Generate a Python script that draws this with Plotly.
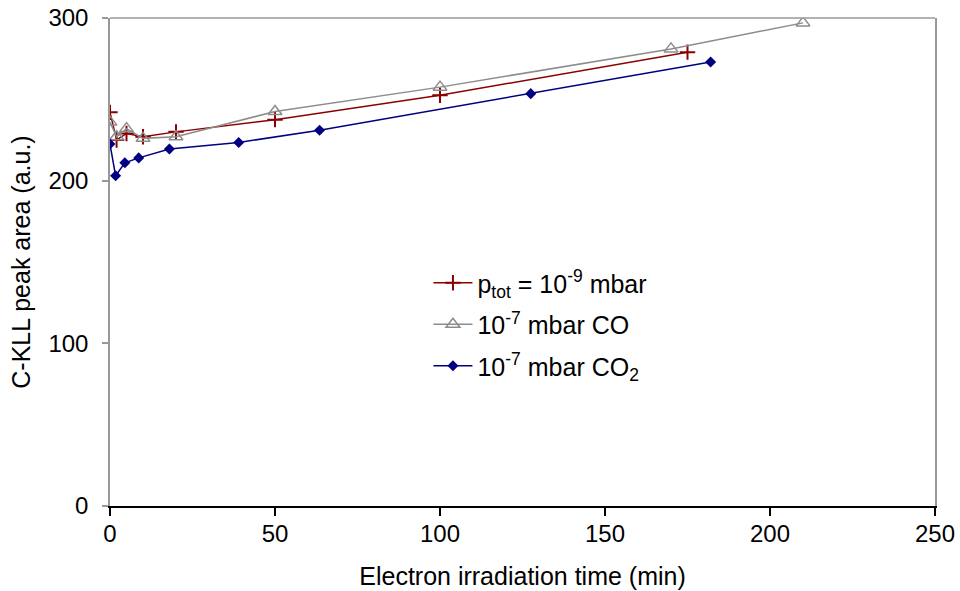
import plotly.graph_objects as go

# Data
red_x = [0, 2, 5, 10, 20, 50, 100, 175]
red_y = [242, 225, 229, 227, 230, 237.5, 252.5, 279]
gray_x = [0, 2, 5, 10, 20, 50, 100, 170, 210]
gray_y = [236, 227, 232, 226, 227, 242.5, 257.5, 281, 297]
blue_x = [0, 1.7, 4.5, 8.7, 18, 39, 63.5, 127.5, 182]
blue_y = [222.5, 203, 211, 214, 219.5, 223.5, 231, 253.5, 273]

FONT = "Liberation Sans, Arial, sans-serif"

fig = go.Figure()
fig.add_trace(go.Scatter(
    x=red_x, y=red_y, mode="lines+markers", name="p<sub>tot</sub> = 10<sup>-9</sup> mbar",
    line=dict(color="#8b0000", width=1.5), legendgroup="a",
    marker=dict(symbol="cross-thin", size=11, line=dict(color="#8b0000", width=2))))
fig.add_trace(go.Scatter(
    x=gray_x, y=gray_y, mode="lines+markers", name="10<sup>-7</sup> mbar CO",
    line=dict(color="#8c8c8c", width=1.5), legendgroup="b",
    marker=dict(symbol="triangle-up-open", size=12, color="#8c8c8c",
                line=dict(color="#8c8c8c", width=1.5))))
fig.add_trace(go.Scatter(
    x=blue_x, y=blue_y, mode="lines+markers", name="10<sup>-7</sup> mbar CO<sub>2</sub>",
    line=dict(color="#000080", width=1.5), legendgroup="c",
    marker=dict(symbol="diamond", size=8.5, color="#000080")))

fig.add_shape(type="line", xref="paper", yref="paper", x0=0, x1=1, y0=1, y1=1,
              line=dict(color="#999999", width=1.5))

fig.update_layout(
    width=960, height=591,
    margin=dict(l=109.5, r=25, t=17.7, b=85.3),
    paper_bgcolor="white", plot_bgcolor="white",
    font=dict(family=FONT, size=24, color="black"),
    showlegend=True,
    legend=dict(x=0.386, y=0.504, xanchor="left", yanchor="top",
                bgcolor="rgba(0,0,0,0)", font=dict(size=25),
                traceorder="grouped", tracegroupgap=6, itemwidth=39),
    xaxis=dict(range=[0, 250], tickvals=[0, 50, 100, 150, 200, 250],
               showline=True, linecolor="black", linewidth=1.5,
               ticks="outside", ticklen=8, tickcolor="black", tickwidth=1.5,
               showgrid=False, zeroline=False, automargin=False,
               tickfont=dict(size=24), ticklabelstandoff=-3,
               title=dict(text="Electron irradiation time (min)", standoff=22,
                          font=dict(size=25))),
    yaxis=dict(range=[0, 300], tickvals=[0, 100, 200, 300],
               showline=True, linecolor="#999999", linewidth=1.5, mirror=True,
               ticks="outside", ticklen=6, tickcolor="#999999", tickwidth=1.5,
               showgrid=False, zeroline=False, automargin=False,
               tickfont=dict(size=24), ticklabelstandoff=9,
               title=dict(text="C-KLL peak area (a.u.)", standoff=11,
                          font=dict(size=25))),
)

fig.write_html("out.html")
